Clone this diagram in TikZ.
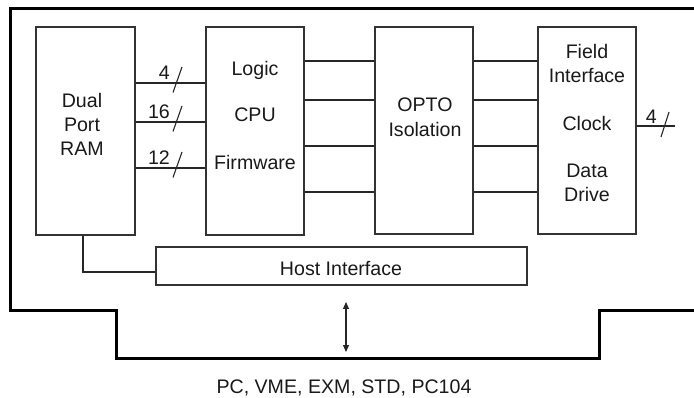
\documentclass[tikz,border=0pt]{standalone}
\usepackage{fontspec}
\setmainfont{Liberation Sans}
\usetikzlibrary{arrows.meta}
\begin{document}
\begin{tikzpicture}[x=1pt,y=-1pt,
  box/.style={draw=black!80, line width=1.1pt, minimum width=#1, inner sep=0pt},
  wire/.style={draw=black!85, line width=1.1pt},
  board/.style={draw=black, line width=3pt, line join=miter},
  txt/.style={font=\fontsize{19.6}{23}\selectfont, inner sep=0pt, anchor=base, text=black!90},
  num/.style={font=\fontsize{19.6}{23}\selectfont, inner sep=0pt, anchor=base east, text=black!90},
  dbl/.style={draw=black!85, line width=1.1pt, {Triangle[length=7pt,width=6pt]}-{Triangle[length=7pt,width=6pt]}}
]
\useasboundingbox (0,0) rectangle (694,398);
% board outline
\draw[board] (700,9) -- (10,9) -- (10,311) -- (116,311) -- (116,358) -- (599,358) -- (599,311) -- (700,311);
% boxes
\node[box=99pt, minimum height=208pt] (ram) at (85.5,131) {};
\node[box=98pt, minimum height=208pt] (cpu) at (255,131) {};
\node[box=98pt, minimum height=207pt] (opto) at (424,130.5) {};
\node[box=98pt, minimum height=207pt] (field) at (587,130.5) {};
\node[box=371pt, minimum height=38pt] (host) at (341.5,266) {};
% texts
\node[txt] (t1) at (82,108) {Dual};
\node[txt] (t2) at (82,132) {Port};
\node[txt] (t3) at (82,156) {RAM};
\node[txt] (t4) at (255,76) {Logic};
\node[txt] (t5) at (255,122) {CPU};
\node[txt] (t6) at (255,170) {Firmware};
\node[txt] (t7) at (425,112) {OPTO};
\node[txt] (t8) at (425,136.5) {Isolation};
\node[txt] (t9) at (587,59) {Field};
\node[txt] (t10) at (587,83) {Interface};
\node[txt] (t11) at (587,131) {Clock};
\node[txt] (t12) at (587,178) {Data};
\node[txt] (t13) at (587,202) {Drive};
\node[txt] (t14) at (341,276) {Host Interface};
\node[txt] (t15) at (344,393) {PC, VME, EXM, STD, PC104};
% RAM - CPU buses
\foreach \yy/\lab in {83/4,122/16,168/12}{
  \draw[wire] (ram.east |- 0,\yy) -- (cpu.west |- 0,\yy);
  \draw[wire] (173,\yy+9.5) -- (182,\yy-16);
  \node[num] at (170,\yy-3) {\lab};
}
% CPU - OPTO - Field lines
\foreach \yy in {61,100,146,192}{
  \draw[wire] (cpu.east |- 0,\yy) -- (opto.west |- 0,\yy);
  \draw[wire] (opto.east |- 0,\yy) -- (field.west |- 0,\yy);
}
% field output
\coordinate (fo) at (675,126);
\draw[wire] (field.east |- fo) -- (fo);
\draw[wire] (661,137) -- (669,112);
\node[num] (n4) at (657,124) {4};
% RAM to host
\draw[wire] (ram.south -| 83,0) |- (host.west |- 0,272);
% bus arrow
\coordinate (a1) at (346,302);
\coordinate (a2) at (346,352);
\draw[dbl] (a1) -- (a2);
\end{tikzpicture}
\end{document}
